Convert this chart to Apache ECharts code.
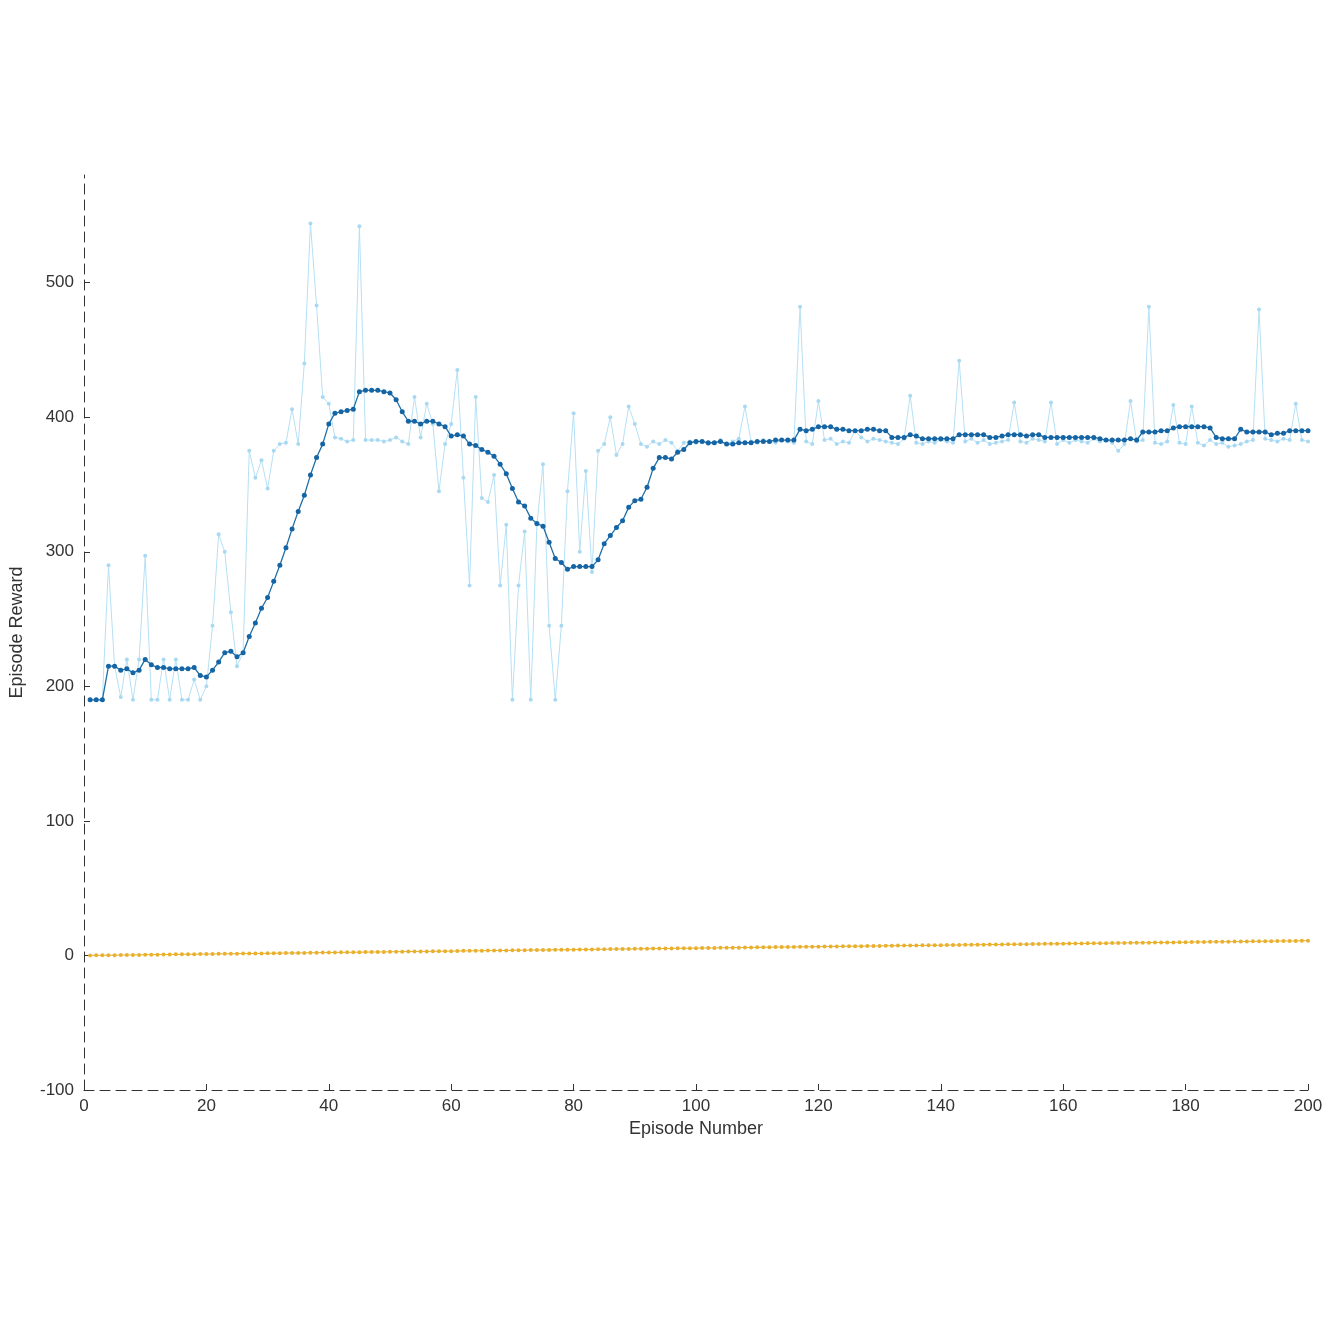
<!DOCTYPE html><html><head><meta charset="utf-8"><script src="https://cdn.jsdelivr.net/npm/echarts@6/dist/echarts.min.js"></script>
<style>html,body{margin:0;background:#fff}#c{width:1326px;height:1326px}</style></head><body><div id="c"></div><script>
const episodeReward=[190,190,190,290,215,192,220,190,220,297,190,190,220,190,220,190,190,205,190,200,245,313,300,255,215,225,375,355,368,347,375,380,381,406,380,440,544,483,415,410,385,384,382,383,542,383,383,383,382,383,385,382,380,415,385,410,395,345,380,395,435,355,275,415,340,337,357,275,320,190,275,315,190,320,365,245,190,245,345,403,300,360,285,375,380,400,372,380,408,395,380,378,382,380,383,381,375,381,382,381,382,380,381,383,380,382,384,408,382,381,383,382,381,383,382,381,482,382,380,412,383,384,380,382,381,390,385,382,384,383,382,381,380,384,416,381,380,382,381,383,382,381,442,382,384,381,383,380,381,382,383,411,382,381,384,383,382,411,380,383,381,383,382,381,384,382,383,381,375,380,412,382,383,482,381,380,382,409,381,380,408,381,379,383,380,381,378,379,380,382,383,480,384,383,382,384,383,410,383,382];
const averageReward=[190,190,190,215,215,212,213,210,212,220,216,214,214,213,213,213,213,214,208,207,212,218,225,226,222,225,237,247,258,266,278,290,303,317,330,342,357,370,380,395,403,404,405,406,419,420,420,420,419,418,413,404,397,397,395,397,397,395,393,386,387,386,380,379,376,374,371,365,358,347,337,334,325,321,319,307,295,292,287,289,289,289,289,294,306,312,318,323,333,338,339,348,362,370,370,369,374,376,381,382,382,381,381,382,380,380,381,381,381,382,382,382,383,383,383,383,391,390,391,393,393,393,391,391,390,390,390,391,391,390,390,385,385,385,387,386,384,384,384,384,384,384,387,387,387,387,387,385,385,386,387,387,387,386,387,387,385,385,385,385,385,385,385,385,385,384,383,383,383,383,384,383,389,389,389,390,390,392,393,393,393,393,393,392,385,384,384,384,391,389,389,389,389,387,388,388,390,390,390,390];
const episodeQ0=[0,0.1,0.1,0.2,0.2,0.3,0.3,0.4,0.4,0.5,0.6,0.6,0.7,0.7,0.8,0.8,0.9,0.9,1.0,1.0,1.1,1.2,1.2,1.3,1.3,1.4,1.4,1.5,1.5,1.6,1.7,1.7,1.8,1.8,1.9,1.9,2.0,2.0,2.1,2.1,2.2,2.3,2.3,2.4,2.4,2.5,2.5,2.6,2.6,2.7,2.8,2.8,2.9,2.9,3.0,3.0,3.1,3.1,3.2,3.2,3.3,3.4,3.4,3.5,3.5,3.6,3.6,3.7,3.7,3.8,3.9,3.9,4.0,4.0,4.1,4.1,4.2,4.2,4.3,4.3,4.4,4.5,4.5,4.6,4.6,4.7,4.7,4.8,4.8,4.9,5.0,5.0,5.1,5.1,5.2,5.2,5.3,5.3,5.4,5.4,5.5,5.6,5.6,5.7,5.7,5.8,5.8,5.9,5.9,6.0,6.1,6.1,6.2,6.2,6.3,6.3,6.4,6.4,6.5,6.5,6.6,6.7,6.7,6.8,6.8,6.9,6.9,7.0,7.0,7.1,7.2,7.2,7.3,7.3,7.4,7.4,7.5,7.5,7.6,7.6,7.7,7.8,7.8,7.9,7.9,8.0,8.0,8.1,8.1,8.2,8.3,8.3,8.4,8.4,8.5,8.5,8.6,8.6,8.7,8.7,8.8,8.9,8.9,9.0,9.0,9.1,9.1,9.2,9.2,9.3,9.4,9.4,9.5,9.5,9.6,9.6,9.7,9.7,9.8,9.8,9.9,10.0,10.0,10.1,10.1,10.2,10.2,10.3,10.3,10.4,10.5,10.5,10.6,10.6,10.7,10.7,10.8,10.8,10.9,11.0];
const pairs=a=>a.map((v,i)=>[i+1,v]);
const axisCommon={axisLine:{show:true,onZero:false,lineStyle:{color:'#333',type:[10,6],width:1}},axisTick:{show:true,inside:true,length:6,lineStyle:{color:'#333'}},axisLabel:{color:'#333',fontSize:17,fontFamily:'Liberation Sans'},splitLine:{show:false},nameTextStyle:{color:'#333',fontSize:18,fontFamily:'Liberation Sans'}};
const chart=echarts.init(document.getElementById('c'));
chart.setOption({animation:false,grid:{left:78,right:18,top:175,bottom:236,containLabel:false},
xAxis:Object.assign({type:'value',min:0,max:200,interval:20,name:'Episode Number',nameLocation:'middle',nameGap:30},axisCommon),
yAxis:Object.assign({type:'value',min:-100,max:580,interval:100,name:'Episode Reward',nameLocation:'middle',nameGap:58},axisCommon,{axisLabel:Object.assign({},axisCommon.axisLabel,{showMaxLabel:false,margin:10})}),
series:[
{name:'Episode Reward',type:'line',data:pairs(episodeReward),symbol:'circle',symbolSize:4,lineStyle:{color:'#b5e0f5',width:1},itemStyle:{color:'#a9d9f2'},z:2},
{name:'Average Reward',type:'line',data:pairs(averageReward),symbol:'circle',symbolSize:5,lineStyle:{color:'#1f6fa8',width:1.3},itemStyle:{color:'#1565a5'},z:3},
{name:'Episode Q0',type:'line',data:pairs(episodeQ0),symbol:'circle',symbolSize:4,lineStyle:{color:'#edb120',width:1},itemStyle:{color:'#e8b030'},z:4}
]});
</script></body></html>
